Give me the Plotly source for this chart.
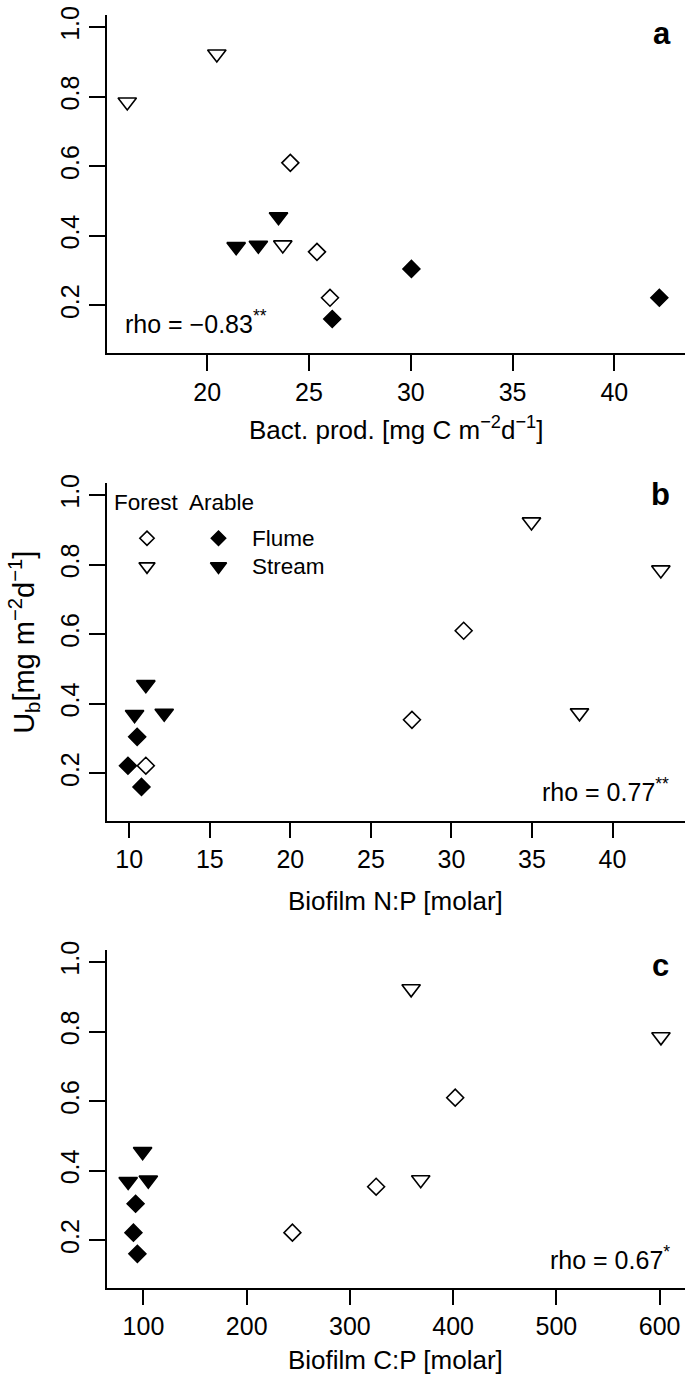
import plotly.graph_objects as go

W, H = 685, 1379

# ---------------- data ----------------
groups = ["Forest flume", "Forest stream", "Arable flume", "Arable stream"]

ub_forest_flume = [0.61, 0.354, 0.222]
ub_forest_stream = [0.785, 0.923, 0.374]
ub_arable_flume = [0.305, 0.161, 0.222]
ub_arable_stream = [0.455, 0.369, 0.373]

bact_forest_flume = [24.08, 25.39, 26.03]
bact_forest_stream = [16.07, 20.47, 23.71]
bact_arable_flume = [30.03, 26.14, 42.21]
bact_arable_stream = [23.50, 21.42, 22.51]

np_forest_flume = [30.76, 27.55, 11.03]
np_forest_stream = [43.00, 34.97, 37.95]
np_arable_flume = [10.49, 10.76, 9.92]
np_arable_stream = [11.03, 10.33, 12.17]

cp_forest_flume = [402.0, 325.4, 244.3]
cp_forest_stream = [601.3, 359.3, 368.6]
cp_arable_flume = [92.4, 94.1, 90.3]
cp_arable_stream = [99.2, 85.2, 104.7]

y_tickvals = [0.2, 0.4, 0.6, 0.8, 1.0]
y_ticktext = ["0.2", "0.4", "0.6", "0.8", "1.0"]
xa_ticks = [20, 25, 30, 35, 40]
xb_ticks = [10, 15, 20, 25, 30, 35, 40]
xc_ticks = [100, 200, 300, 400, 500, 600]

rho_texts = ["rho = \u22120.83<sup>**</sup>", "rho = 0.77<sup>**</sup>", "rho = 0.67<sup>*</sup>"]
panel_letters = ["a", "b", "c"]
x_titles = ["Bact. prod. [mg C m<sup>\u22122</sup>d<sup>\u22121</sup>]",
            "Biofilm N:P [molar]",
            "Biofilm C:P [molar]"]
y_title = "U<sub>b</sub>[mg m<sup>\u22122</sup>d<sup>\u22121</sup>]"
legend_header = "Forest  Arable"
legend_labels = ["Flume", "Stream"]

# ---------------- styling / layout ----------------
FONT = "Liberation Sans, Arial, Helvetica, sans-serif"
symbols = ["diamond-open", "triangle-down-open", "diamond", "triangle-down"]
sizes = [13, 16, 13, 16]
Y_RANGE = [0.064, 1.036]


def px(x):
    return x / W


def py(y):
    return 1 - y / H


X_LEFT = 106.7
panels = [  # (top px, bottom px, x range)
    (5.7, 346.0, [15.06, 43.47]),
    (476.7, 817.0, [8.6, 44.5]),
    (946.7, 1287.0, [64.4, 624.6]),
]
xs = [
    [bact_forest_flume, bact_forest_stream, bact_arable_flume, bact_arable_stream],
    [np_forest_flume, np_forest_stream, np_arable_flume, np_arable_stream],
    [cp_forest_flume, cp_forest_stream, cp_arable_flume, cp_arable_stream],
]
ys = [ub_forest_flume, ub_forest_stream, ub_arable_flume, ub_arable_stream]
xticks = [xa_ticks, xb_ticks, xc_ticks]

fig = go.Figure()
layout = dict(
    width=W, height=H, margin=dict(l=0, r=0, t=0, b=0, pad=0),
    paper_bgcolor="white", plot_bgcolor="white", showlegend=False,
    font=dict(family=FONT, color="black", size=25),
)
annotations = []

for i, (top, bot, xr) in enumerate(panels):
    sfx = "" if i == 0 else str(i + 1)
    for g in range(4):
        fig.add_trace(go.Scatter(
            x=xs[i][g], y=ys[g], mode="markers", name=groups[g],
            xaxis="x" + sfx, yaxis="y" + sfx,
            marker=dict(symbol=symbols[g], size=sizes[g], color="black",
                        line=dict(color="black", width=1.6)),
        ))
    layout["xaxis" + sfx] = dict(
        domain=[px(X_LEFT), 1.0], range=xr, anchor="y" + sfx,
        showline=True, linecolor="black", linewidth=1.6, mirror=False,
        showgrid=False, zeroline=False, ticks="outside", ticklen=16,
        tickwidth=1.6, tickcolor="black", tickvals=xticks[i],
        tickfont=dict(size=25, family=FONT),
    )
    layout["yaxis" + sfx] = dict(
        domain=[py(bot), py(top)], range=Y_RANGE, anchor="x" + sfx,
        showline=True, linecolor="black", linewidth=1.6, mirror=False,
        showgrid=False, zeroline=False, ticks="outside", ticklen=16,
        tickwidth=1.6, tickcolor="black", tickvals=y_tickvals,
        ticktext=y_ticktext, tickangle=-90,
        tickfont=dict(size=25, family=FONT),
    )

# panel letters
letter_pos = [(662, 25), (660, 489), (660, 963)]
for (lx, ly), t in zip(letter_pos, panel_letters):
    annotations.append(dict(x=px(lx), y=py(ly), xref="paper", yref="paper",
                            text="<b>" + t + "</b>", showarrow=False,
                            font=dict(size=31, family=FONT), xanchor="center",
                            yanchor="middle"))

# rho texts
annotations.append(dict(x=px(123), y=py(315), xref="paper", yref="paper",
                        text=rho_texts[0], showarrow=False, xanchor="left",
                        yanchor="middle", font=dict(size=25, family=FONT)))
annotations.append(dict(x=px(671), y=py(786), xref="paper", yref="paper",
                        text=rho_texts[1], showarrow=False, xanchor="right",
                        yanchor="middle", font=dict(size=25, family=FONT)))
annotations.append(dict(x=px(672), y=py(1257), xref="paper", yref="paper",
                        text=rho_texts[2], showarrow=False, xanchor="right",
                        yanchor="middle", font=dict(size=25, family=FONT)))

# x titles
xt_y = [422, 898, 1360]
for t, yy in zip(x_titles, xt_y):
    annotations.append(dict(x=px((X_LEFT + W) / 2), y=py(yy), xref="paper",
                            yref="paper", text=t, showarrow=False,
                            xanchor="center", yanchor="middle",
                            font=dict(size=26, family=FONT)))

# y title (panel b)
annotations.append(dict(x=px(24), y=py(638), xref="paper", yref="paper",
                        text=y_title, showarrow=False, textangle=-90,
                        xanchor="center", yanchor="middle",
                        font=dict(size=29, family=FONT)))

# legend (panel b): header and row labels
annotations.append(dict(x=px(112), y=py(497), xref="paper", yref="paper",
                        text=legend_header, showarrow=False,
                        xanchor="left", yanchor="middle",
                        font=dict(size=22.5, family=FONT)))
leg_rows = [532.7, 561.0]   # pixel rows of legend keys
leg_cols = [147.0, 218.5]   # pixel columns of legend keys
for ry, lab in zip(leg_rows, legend_labels):
    annotations.append(dict(x=px(250), y=py(ry), xref="paper", yref="paper",
                            text=lab, showarrow=False, xanchor="left",
                            yanchor="middle", font=dict(size=22.5, family=FONT)))

# legend keys drawn in panel b's axes, converting pixel layout to axis units
b_top, b_bot, b_xr = panels[1]


def b_x(pxv):
    return b_xr[0] + (pxv - X_LEFT) / (W - X_LEFT) * (b_xr[1] - b_xr[0])


def b_y(pyv):
    return Y_RANGE[1] - (pyv - b_top) / (b_bot - b_top) * (Y_RANGE[1] - Y_RANGE[0])


leg_sym = [["diamond-open", "diamond"], ["triangle-down-open", "triangle-down"]]
leg_size = [11, 14]
for r in range(2):
    fig.add_trace(go.Scatter(
        x=[b_x(c) for c in leg_cols], y=[b_y(leg_rows[r])] * 2, mode="markers",
        xaxis="x2", yaxis="y2", hoverinfo="skip",
        marker=dict(symbol=leg_sym[r], size=leg_size[r], color="black",
                    line=dict(color="black", width=1.6)),
    ))

layout["annotations"] = annotations
fig.update_layout(**layout)
fig.write_html("out.html",
               config={"displayModeBar": False},
               post_script="document.body.style.margin='0';"
                           "document.body.style.padding='0';")
